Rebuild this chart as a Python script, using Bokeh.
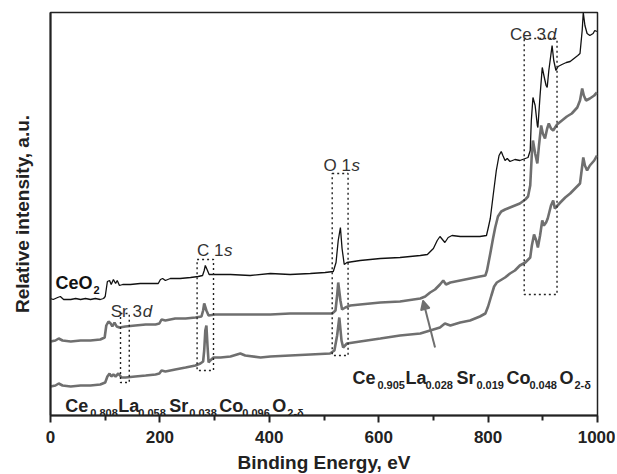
from bokeh.plotting import figure
from bokeh.models import Range1d, FixedTicker, Arrow, NormalHead, ColumnDataSource
from bokeh.core.properties import value
from bokeh.embed import file_html
from bokeh.resources import INLINE

# ---- data (binding energy in eV, relative intensity in arbitrary units) ----
ceo2_x = [0,5,13,18,24,37,46,55,64,73,82,91,97,100,104,108,111,115,119,122,126,132,146,164,183,197,201,205,210,219,237,256,270,278,281,283,287,290,301,329,365,402,438,475,502,517,522,526,530,533,537,542,566,603,639,676,689,700,707,712,718,721,727,734,749,767,785,797,800,804,809,815,820,824,827,831,835,840,849,858,868,873,877,879,882,886,890,891,895,899,902,906,908,911,917,920,924,928,935,943,950,957,964,968,972,974,977,981,986,992,995,999]
ceo2_y = [117,116,118,119,116,116,117,116,117,116,117,116,117,119,134,135,131,136,132,135,130,131,131,132,132,132,136,137,135,137,137,138,139,140,145,150,145,141,141,141,140,142,141,142,143,144,153,175,188,167,151,153,155,157,158,160,161,167,175,179,175,173,178,180,179,179,179,180,187,197,219,245,260,264,260,255,257,254,256,255,257,258,265,295,318,310,290,288,320,348,340,330,328,345,370,355,345,349,351,353,354,357,360,362,385,403,390,382,380,382,385,384]

s905_x = [0,9,15,22,37,55,73,91,99,102,106,110,113,117,121,126,137,155,174,192,199,203,210,228,247,265,276,279,281,285,289,301,329,365,402,438,475,515,521,524,526,530,533,539,548,566,603,639,676,685,694,703,712,718,723,731,749,767,785,795,798,804,809,813,818,824,831,840,849,858,868,873,877,880,882,886,890,893,897,900,904,908,911,915,919,926,935,944,953,963,968,972,975,979,986,994,999]
s905_y = [74,75,77,75,74,75,75,76,78,90,94,92,89,93,89,88,89,90,91,91,92,96,95,97,97,98,99,105,112,105,100,101,101,101,101,102,102,102,105,120,133,115,106,108,110,111,113,114,117,119,123,126,131,135,131,133,135,137,139,140,145,162,177,188,199,204,206,208,210,212,216,219,230,262,275,262,252,270,290,282,277,287,292,287,285,291,295,299,302,308,315,327,320,315,317,320,323]

s808_x = [0,9,15,22,37,55,73,91,100,104,108,111,115,119,124,130,137,155,174,192,199,203,210,228,247,265,274,279,281,283,285,287,289,292,298,311,329,347,356,384,402,438,475,511,519,524,528,532,535,542,566,603,639,676,694,712,721,731,749,767,785,795,800,806,811,816,822,831,840,849,858,868,877,880,884,888,891,895,899,902,906,909,915,919,922,932,941,950,959,968,974,977,981,986,994,999]
s808_y = [29,30,32,30,29,30,30,31,33,39,42,39,41,39,42,38,38,39,40,41,42,45,44,46,48,50,52,54,65,85,90,70,53,55,58,58,59,62,60,58,59,60,61,62,65,80,98,75,68,72,74,77,80,82,85,88,92,90,93,95,99,102,109,120,129,133,135,138,142,145,150,153,158,170,181,175,168,180,195,190,193,197,210,215,207,213,218,222,227,232,258,250,245,250,255,260]

# dotted boxes around peaks: Sr 3d, C 1s, O 1s, Ce 3d
box_left = [128, 268, 515, 866]
box_right = [144, 298, 544, 926]
box_bottom = [33, 45, 60, 121]
box_top = [102, 156, 242, 377]

# peak labels
peak_plain = ["Sr 3", "C 1", "O 1", "Ce 3"]
peak_ital = ["d", "s", "s", "d"]
peak_x = [110, 268, 499, 840]
peak_y = [104, 165, 250, 381]
peak_ital_dx = [32, 27, 28, 37]

x_ticks = [0, 200, 400, 600, 800, 1000]
x_minor = [100, 300, 500, 700, 900]

formula_main = ["Ce", "La", "Sr", "Co", "O"]
formula1_sub = ["0.808", "0.058", "0.038", "0.096", "2-δ"]
formula2_sub = ["0.905", "0.028", "0.019", "0.048", "2-δ"]
main_dx = [0, 53, 104, 154, 207]
sub_dx = [25, 73, 124, 177, 222]

assert len(ceo2_x) == len(ceo2_y)
assert len(s905_x) == len(s905_y)
assert len(s808_x) == len(s808_y)

FONT = "Liberation Sans"
GRAY = "#6f6f6f"

p = figure(frame_width=547, frame_height=403,
           min_border_left=50, min_border_right=18, min_border_top=12, min_border_bottom=57,
           x_range=Range1d(0, 1000), y_range=Range1d(0, 403),
           output_backend="svg", toolbar_location=None)
p.background_fill_color = "white"
p.border_fill_color = "white"
p.xgrid.visible = False
p.ygrid.visible = False
p.outline_line_color = "#222222"
p.outline_line_width = 1.5

# x axis
p.xaxis.ticker = FixedTicker(ticks=x_ticks, minor_ticks=x_minor)
p.xaxis.axis_line_width = 2
p.xaxis.axis_line_color = "#222222"
p.xaxis.major_tick_line_width = 2
p.xaxis.minor_tick_line_width = 2
p.xaxis.major_tick_line_color = "#222222"
p.xaxis.minor_tick_line_color = "#222222"
p.xaxis.major_tick_in = 0
p.xaxis.major_tick_out = 7
p.xaxis.minor_tick_in = 0
p.xaxis.minor_tick_out = 5
p.xaxis.major_label_text_font = FONT
p.xaxis.major_label_text_font_style = "bold"
p.xaxis.major_label_text_font_size = "17px"
p.xaxis.major_label_text_color = "#222222"
p.xaxis.major_label_standoff = 8
p.xaxis.axis_label = "Binding Energy, eV"
p.xaxis.axis_label_text_font = FONT
p.xaxis.axis_label_text_font_style = "bold"
p.xaxis.axis_label_text_font_size = "19px"
p.xaxis.axis_label_text_color = "#222222"
p.xaxis.axis_label_standoff = 6

# y axis (no ticks)
p.yaxis.ticker = FixedTicker(ticks=[])
p.yaxis.axis_line_width = 2
p.yaxis.axis_line_color = "#222222"
p.yaxis.major_tick_line_color = None
p.yaxis.minor_tick_line_color = None
p.yaxis.major_label_text_font_size = "0px"
p.yaxis.axis_label = "Relative intensity, a.u."
p.yaxis.axis_label_text_font = FONT
p.yaxis.axis_label_text_font_style = "bold"
p.yaxis.axis_label_text_font_size = "19px"
p.yaxis.axis_label_text_color = "#222222"
p.yaxis.axis_label_standoff = 18

# curves
p.line(s808_x, s808_y, line_color=GRAY, line_width=2.6)
p.line(s905_x, s905_y, line_color=GRAY, line_width=2.6)
p.line(ceo2_x, ceo2_y, line_color="#111111", line_width=1.3)

# dotted boxes
p.quad(left=box_left, right=box_right, bottom=box_bottom, top=box_top,
       fill_alpha=0, line_color="#222222", line_width=1.4, line_dash="2 3")

# arrow
p.add_layout(Arrow(end=NormalHead(size=9, line_color=GRAY, fill_color=GRAY, line_width=1.5),
                   x_start=703, y_start=68, x_end=681, y_end=115,
                   line_color=GRAY, line_width=2))

# peak labels
p.text(x=peak_x, y=peak_y, text=peak_plain, text_font=value(FONT), text_font_size="17px",
       text_color="#333333", text_baseline="alphabetic", text_align="left")
p.text(x=peak_x, y=peak_y, text=peak_ital, x_offset=peak_ital_dx, text_font=value(FONT),
       text_font_size="17px", text_font_style="italic", text_color="#333333",
       text_baseline="alphabetic", text_align="left")

# CeO2 label
p.text(x=[9], y=[133], text=["CeO"], text_font=value(FONT), text_font_size="18px",
       text_font_style="bold", text_color="#111111", text_baseline="alphabetic")
p.text(x=[9], y=[126], text=["2"], x_offset=[38], text_font=value(FONT), text_font_size="11px",
       text_font_style="bold", text_color="#111111", text_baseline="alphabetic")

# formula labels
def formula(x0, y_main, y_sub, subs):
    n = len(formula_main)
    src_m = ColumnDataSource(dict(x=[x0] * n, y=[y_main] * n, t=formula_main, dx=main_dx))
    src_s = ColumnDataSource(dict(x=[x0] * n, y=[y_sub] * n, t=subs, dx=sub_dx))
    p.text(x="x", y="y", text="t", x_offset="dx", source=src_m, text_font=value(FONT),
           text_font_size="18px", text_font_style="bold", text_color="#222222",
           text_baseline="alphabetic")
    p.text(x="x", y="y", text="t", x_offset="dx", source=src_s, text_font=value(FONT),
           text_font_size="11px", text_font_style="bold", text_color="#222222",
           text_baseline="alphabetic")

formula(27, 10, 3, formula1_sub)
formula(552, 38, 31, formula2_sub)

open("out.html", "w").write(file_html(p, INLINE))
